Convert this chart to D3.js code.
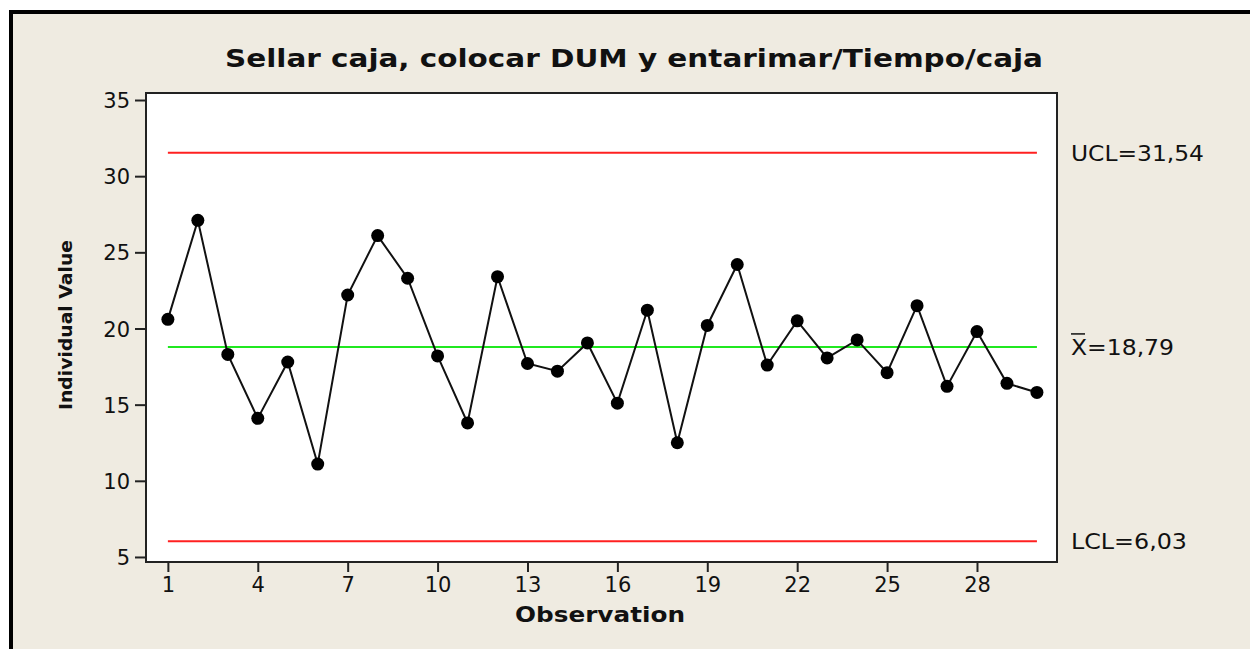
<!DOCTYPE html>
<html>
<head>
<meta charset="utf-8">
<script src="https://cdn.jsdelivr.net/npm/d3@7"></script>
<style>
	html, body { margin: 0; padding: 0; background: #ffffff; }
	svg text { font-family: "DejaVu Sans", Verdana, sans-serif; fill: #111; }
</style>
</head>
<body>
<div id="chart"></div>
<script>
// values
var observations = d3.range(1, 31);
var individualValues = [20.6, 27.1, 18.3, 14.1, 17.8, 11.1, 22.2, 26.1, 23.3, 18.2,
	13.8, 23.4, 17.7, 17.2, 19.05, 15.1, 21.2, 12.5, 20.2, 24.2,
	17.6, 20.5, 18.07, 19.25, 17.1, 21.5, 16.2, 19.8, 16.4, 15.8];
var xTicks = [1, 4, 7, 10, 13, 16, 19, 22, 25, 28];
var yTicks = [5, 10, 15, 20, 25, 30, 35];
var limitNames = ["UCL", "X", "LCL"];
var limitValues = [31.54, 18.79, 6.03];
var limitLabels = ["=31,54", "=18,79", "=6,03"];
var limitColors = ["#ff2020", "#20e820", "#ff2020"];

var width = 1250, height = 649;
var plot = {left: 146, right: 1057, top: 93, bottom: 562};

var svg = d3.select("#chart").append("svg")
	.attr("width", width)
	.attr("height", height);

// window frame
svg.append("rect").attr("x", 0).attr("y", 0).attr("width", width).attr("height", height).attr("fill", "#ffffff");
svg.append("rect").attr("x", 11).attr("y", 12).attr("width", width - 11).attr("height", height - 12).attr("fill", "#efebe1");
svg.append("rect").attr("x", 9).attr("y", 10).attr("width", width - 9).attr("height", 4).attr("fill", "#000");
svg.append("rect").attr("x", 9).attr("y", 10).attr("width", 4).attr("height", height - 10).attr("fill", "#000");

var x = d3.scaleLinear().domain([0.27, 30.67]).range([plot.left, plot.right]);
var y = d3.scaleLinear().domain([4.67, 35.46]).range([plot.bottom, plot.top]);

svg.append("rect")
	.attr("x", plot.left).attr("y", plot.top)
	.attr("width", plot.right - plot.left).attr("height", plot.bottom - plot.top)
	.attr("fill", "#ffffff").attr("stroke", "#222").attr("stroke-width", 2);

// axes
var yAxis = svg.append("g").attr("transform", "translate(" + plot.left + ",0)")
	.call(d3.axisLeft(y).tickValues(yTicks).tickSize(11).tickPadding(5).tickSizeOuter(0));
var xAxis = svg.append("g").attr("transform", "translate(0," + plot.bottom + ")")
	.call(d3.axisBottom(x).tickValues(xTicks).tickSize(10).tickPadding(5).tickSizeOuter(0));
[xAxis, yAxis].forEach(function (g) {
	g.select(".domain").remove();
	g.selectAll(".tick line").attr("stroke", "#222").attr("stroke-width", 2);
	g.selectAll(".tick text").attr("font-size", 21).attr("fill", "#111")
		.attr("font-family", "DejaVu Sans, sans-serif");
});
yAxis.selectAll(".tick text").attr("dy", "0.36em");

// control limit lines
svg.selectAll(".limit").data(limitValues).enter().append("line")
	.attr("class", "limit")
	.attr("x1", x(1)).attr("x2", x(30))
	.attr("y1", function (d) { return y(d); })
	.attr("y2", function (d) { return y(d); })
	.attr("stroke", function (d, i) { return limitColors[i]; })
	.attr("stroke-width", 2);

// limit labels
var labelWidths = [133, 103, 116];
limitValues.forEach(function (v, i) {
	var t = svg.append("text")
		.attr("x", 1071).attr("y", y(v) + 8)
		.attr("font-size", 21)
		.attr("textLength", labelWidths[i]).attr("lengthAdjust", "spacingAndGlyphs");
	t.append("tspan").text(limitNames[i]);
	t.append("tspan").text(limitLabels[i]);
	if (limitNames[i] == "X") {
		svg.append("line").attr("x1", 1071).attr("x2", 1085)
			.attr("y1", y(v) - 13).attr("y2", y(v) - 13)
			.attr("stroke", "#111").attr("stroke-width", 1.5);
	}
});

// data line and markers
var line = d3.line()
	.x(function (d, i) { return x(observations[i]); })
	.y(function (d) { return y(d); });

svg.append("path").datum(individualValues)
	.attr("d", line)
	.attr("fill", "none").attr("stroke", "#111").attr("stroke-width", 2);

svg.selectAll(".pt").data(individualValues).enter().append("circle")
	.attr("class", "pt")
	.attr("cx", function (d, i) { return x(observations[i]); })
	.attr("cy", function (d) { return y(d); })
	.attr("r", 6.5).attr("fill", "#000");

// titles
svg.append("text").attr("x", 634).attr("y", 67)
	.attr("text-anchor", "middle").attr("font-size", 25).attr("font-weight", "bold")
	.attr("textLength", 818).attr("lengthAdjust", "spacingAndGlyphs")
	.text("Sellar caja, colocar DUM y entarimar/Tiempo/caja");

svg.append("text").attr("x", 600).attr("y", 622)
	.attr("text-anchor", "middle").attr("font-size", 22).attr("font-weight", "bold")
	.attr("textLength", 170).attr("lengthAdjust", "spacingAndGlyphs")
	.text("Observation");

svg.append("text").attr("transform", "translate(72,325) rotate(-90)")
	.attr("text-anchor", "middle").attr("font-size", 17).attr("font-weight", "bold")
	.attr("textLength", 170).attr("lengthAdjust", "spacingAndGlyphs")
	.text("Individual Value");
</script>
</body>
</html>
